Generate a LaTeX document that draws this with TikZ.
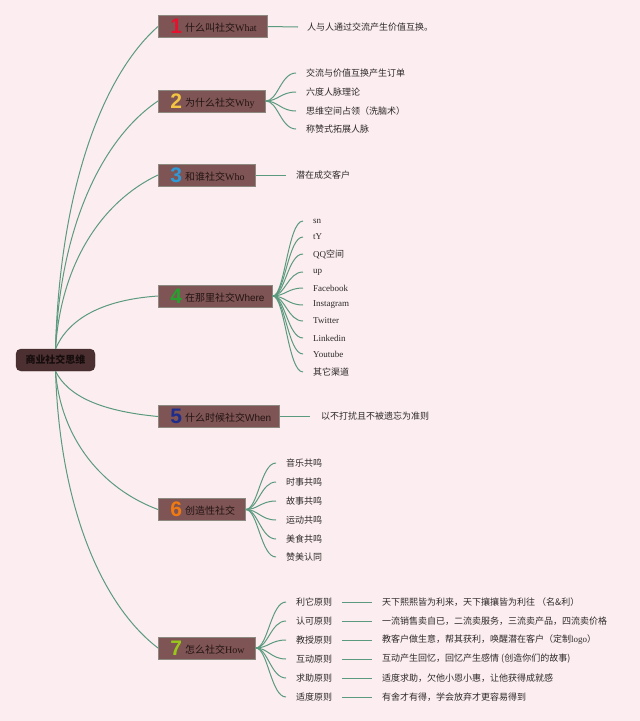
\documentclass[tikz,border=0pt]{standalone}
\usepackage{fontspec}
\setmainfont{Liberation Serif}
\newfontfamily\cjk{Noto Sans CJK SC}
\newfontfamily\latf{Liberation Serif}
\newfontfamily\sanf{Liberation Sans}
\definecolor{bgc}{RGB}{252,238,240}
\definecolor{boxfill}{RGB}{126,84,84}
\definecolor{boxline}{RGB}{140,138,128}
\definecolor{boxtext}{RGB}{36,20,20}
\definecolor{rootfill}{RGB}{75,47,49}
\definecolor{roottext}{RGB}{22,12,12}
\definecolor{linec}{RGB}{92,154,128}
\definecolor{leaftext}{RGB}{45,40,40}
\definecolor{nA}{RGB}{228,18,45}
\definecolor{nB}{RGB}{244,197,66}
\definecolor{nC}{RGB}{46,154,216}
\definecolor{nD}{RGB}{38,160,46}
\definecolor{nE}{RGB}{30,45,140}
\definecolor{nF}{RGB}{240,122,18}
\definecolor{nG}{RGB}{154,200,26}
\newcommand\bnum[2]{\raisebox{-2pt}{\sanf\bfseries\fontsize{21}{21}\selectfont\color{#1}#2}\hspace{3pt}}
\newcommand\lt[1]{{\latf #1}}
\newcommand\st[1]{{\sanf #1}}
\begin{document}
\begin{tikzpicture}[x=1pt,y=-1pt,
  branch/.style={draw=boxline, fill=boxfill, line width=0.8pt, minimum height=22pt,
    inner ysep=0pt, inner xsep=0pt, anchor=west, align=left, text width=#1,
    text=boxtext, font=\fontsize{10}{12}\selectfont\cjk},
  leaf/.style={anchor=west, inner xsep=10pt, inner ysep=1pt, text=leaftext,
    font=\fontsize{9}{11}\selectfont\cjk},
  conn/.style={draw=linec, line width=1pt},
  rootbox/.style={fill=rootfill, draw=rootfill!85!black, rounded corners=5pt,
    minimum width=79pt, minimum height=22pt, inner sep=0pt, text=roottext,
    font=\fontsize{10}{12}\selectfont\cjk\bfseries}]
\fill[bgc] (0,0) rectangle (640,721);
\useasboundingbox (0,0) rectangle (640,721);

\node[rootbox] (root) at (55.5,360) {商业社交思维};

\node[branch=109pt] (b1) at (158,26.5) {\hspace*{12pt}\bnum{nA}{1}什么叫社交\lt{What}};
\node[branch=107pt] (b2) at (158,101) {\hspace*{12pt}\bnum{nB}{2}为什么社交\lt{Why}};
\node[branch=97pt] (b3) at (158,175) {\hspace*{12pt}\bnum{nC}{3}和谁社交\lt{Who}};
\node[branch=114pt] (b4) at (158,296) {\hspace*{12pt}\bnum{nD}{4}在那里社交\st{Where}};
\node[branch=121pt] (b5) at (158,416.5) {\hspace*{12pt}\bnum{nE}{5}什么时候社交\st{When}};
\node[branch=87pt] (b6) at (158,509.5) {\hspace*{12pt}\bnum{nF}{6}创造性社交};
\node[branch=97pt] (b7) at (158,648) {\hspace*{12pt}\bnum{nG}{7}怎么社交\lt{How}};

\draw[conn] (root.north) .. controls (60,188) and (103,75) .. (b1.west);
\draw[conn] (root.north) .. controls (60,225) and (103,138) .. (b2.west);
\draw[conn] (root.north) .. controls (61,262) and (103,201) .. (b3.west);
\draw[conn] (root.north) .. controls (68,320) and (100,300) .. (b4.west);
\draw[conn] (root.south) .. controls (68,396) and (100,411) .. (b5.west);
\draw[conn] (root.south) .. controls (61,440) and (103,489) .. (b6.west);
\draw[conn] (root.south) .. controls (60,510) and (103,606) .. (b7.west);

% branch 1
\node[leaf, inner xsep=9pt] (l1a) at (298,27) {人与人通过交流产生价值互换。};
\draw[conn] (b1.east) -- (l1a.west);

% branch 2
\node[leaf] (l2a) at (296,73) {交流与价值互换产生订单};
\node[leaf] (l2b) at (296,92) {六度人脉理论};
\node[leaf] (l2c) at (296,111) {思维空间占领（洗脑术）};
\node[leaf] (l2d) at (296,129) {称赞式拓展人脉};
\foreach \n in {l2a,l2b,l2c,l2d}
  \draw[conn] (b2.east) .. controls +(12,0) and +(-15,0) .. (\n.west);

% branch 3
\node[leaf] (l3a) at (286,175) {潜在成交客户};
\draw[conn] (b3.east) -- (l3a.west);

% branch 4
\node[leaf] (l4a) at (303,221) {\lt{sn}};
\node[leaf] (l4b) at (303,237) {\lt{tY}};
\node[leaf] (l4c) at (303,254) {\lt{QQ}空间};
\node[leaf] (l4d) at (303,272) {\lt{up}};
\node[leaf] (l4e) at (303,288) {\lt{Facebook}};
\node[leaf] (l4f) at (303,305) {\lt{Instagram}};
\node[leaf] (l4g) at (303,321) {\lt{Twitter}};
\node[leaf] (l4h) at (303,338) {\lt{Linkedin}};
\node[leaf] (l4i) at (303,354) {\lt{Youtube}};
\node[leaf] (l4j) at (303,372) {其它渠道};
\foreach \n in {l4a,l4b,l4c,l4d,l4e,l4f,l4g,l4h,l4i,l4j}
  \draw[conn] (b4.east) .. controls +(12,0) and +(-15,0) .. (\n.west);

% branch 5
\node[leaf, inner xsep=11pt] (l5a) at (310,416.5) {以不打扰且不被遗忘为准则};
\draw[conn] (b5.east) -- (l5a.west);

% branch 6
\node[leaf] (l6a) at (276,463) {音乐共鸣};
\node[leaf] (l6b) at (276,482) {时事共鸣};
\node[leaf] (l6c) at (276,501) {故事共鸣};
\node[leaf] (l6d) at (276,520) {运动共鸣};
\node[leaf] (l6e) at (276,539) {美食共鸣};
\node[leaf] (l6f) at (276,557) {赞美认同};
\foreach \n in {l6a,l6b,l6c,l6d,l6e,l6f}
  \draw[conn] (b6.east) .. controls +(12,0) and +(-15,0) .. (\n.west);

% branch 7
\node[leaf] (l7a) at (286,602) {利它原则};
\node[leaf] (l7b) at (286,621) {认可原则};
\node[leaf] (l7c) at (286,640) {教授原则};
\node[leaf] (l7d) at (286,659) {互动原则};
\node[leaf] (l7e) at (286,678) {求助原则};
\node[leaf] (l7f) at (286,697) {适度原则};
\foreach \n in {l7a,l7b,l7c,l7d,l7e,l7f}
  \draw[conn] (b7.east) .. controls +(12,0) and +(-15,0) .. (\n.west);

\node[leaf] (d7a) at (372,602) {天下熙熙皆为利来，天下攘攘皆为利往 （名\&利）};
\node[leaf] (d7b) at (372,621) {一流销售卖自已，二流卖服务，三流卖产品，四流卖价格};
\node[leaf] (d7c) at (372,640) {教客户做生意，帮其获利，唤醒潜在客户（定制\lt{logo}）};
\node[leaf] (d7d) at (372,659) {互动产生回忆，回忆产生感情 (创造你们的故事)};
\node[leaf] (d7e) at (372,678) {适度求助，欠他小恩小惠，让他获得成就感};
\node[leaf] (d7f) at (372,697) {有舍才有得，学会放弃才更容易得到};
\draw[conn] (l7a.east) -- (d7a.west);
\draw[conn] (l7b.east) -- (d7b.west);
\draw[conn] (l7c.east) -- (d7c.west);
\draw[conn] (l7d.east) -- (d7d.west);
\draw[conn] (l7e.east) -- (d7e.west);
\draw[conn] (l7f.east) -- (d7f.west);
\end{tikzpicture}
\end{document}
